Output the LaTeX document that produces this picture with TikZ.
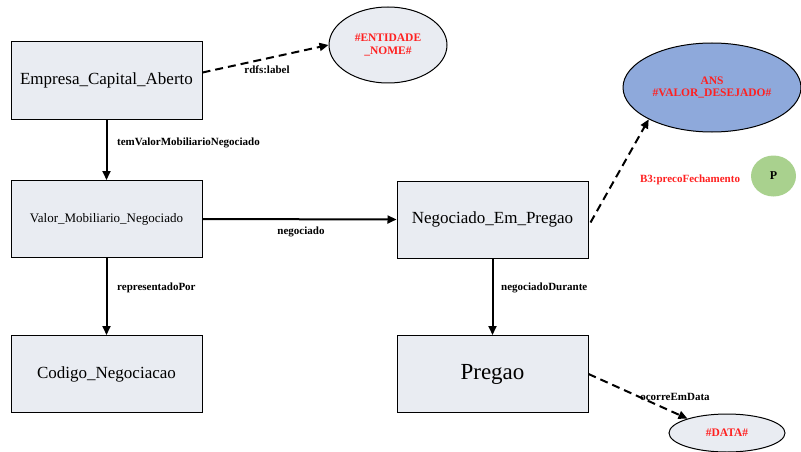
\documentclass[tikz,border=0pt]{standalone}
\usepackage{fontspec}
\setmainfont{Liberation Serif}
\usetikzlibrary{arrows.meta,shapes.geometric}
\definecolor{boxfill}{HTML}{E9ECF2}
\definecolor{ansfill}{HTML}{8EA9DB}
\definecolor{pfill}{HTML}{A9D18E}
\definecolor{litred}{HTML}{FF2020}
\begin{document}
\begin{tikzpicture}[x=1pt,y=-1pt]
\tikzstyle{arrow}=[-{Triangle[length=9pt,width=8pt]}, draw, line width=2pt]
\tikzstyle{dasharrow}=[arrow, dash pattern=on 8pt off 5pt]
\tikzstyle{cls}=[draw, fill=boxfill, minimum width=191pt, minimum height=77pt, inner sep=0pt, line width=1pt]
\tikzstyle{lit}=[draw, ellipse, fill=boxfill, inner sep=0pt, line width=1pt, text=litred, font=\rmfamily\fontsize{11.5}{12.5}\selectfont\bfseries, align=center]
\tikzstyle{prop}=[font=\rmfamily\fontsize{11}{12}\selectfont\bfseries, inner sep=0pt]
\useasboundingbox (0,0) rectangle (801,452);
\node[cls, font=\rmfamily\fontsize{17}{18}\selectfont] (v1) at (106.5,80.5) {Empresa\_Capital\_Aberto};
\node[cls, font=\rmfamily\fontsize{13}{14}\selectfont] (v2) at (106.5,219) {Valor\_Mobiliario\_Negociado};
\node[cls, font=\rmfamily\fontsize{17}{18}\selectfont] (v3) at (106.5,374) {Codigo\_Negociacao};
\node[cls, font=\rmfamily\fontsize{17}{18}\selectfont] (v4) at (492.5,219.5) {Negociado\_Em\_Pregao};
\node[cls, font=\rmfamily\fontsize{23}{24}\selectfont] (v5) at (492.5,374) {Pregao};
\node[lit, minimum width=118pt, minimum height=76pt] (v6) at (388,45) {\#ENTIDADE\\\_NOME\#};
\node[lit, fill=ansfill, minimum width=178pt, minimum height=89pt] (v7) at (712,87.5) {ANS\\\#VALOR\_DESEJADO\#};
\node[lit, minimum width=116pt, minimum height=38pt] (v8) at (727,433) {\#DATA\#};
\node[draw=none, ellipse, fill=pfill, minimum width=45pt, minimum height=41pt, inner sep=0pt, font=\rmfamily\fontsize{12}{13}\selectfont\bfseries] (v9) at (773.5,176) {P};
\node[prop, text=litred] (l0) at (690,180) {B3:precoFechamento};

\node[prop] (l1) at (267,70) {rdfs:label};
\node[prop, anchor=west] (l2) at (117,143) {temValorMobiliarioNegociado};
\node[prop] (l3) at (301,232) {negociado};
\node[prop, anchor=west] (l4) at (117,288) {representadoPor};
\node[prop, anchor=west] (l5) at (501,288) {negociadoDurante};
\node[prop] (l6) at (675,397) {ocorreEmData};

\draw[dasharrow] ([yshift=8pt]v1.east) -- (v6.west);
\draw[arrow] (v1) -- (v2);
\draw[arrow] (v2.east) -- (v4.west);
\draw[arrow] (v2) -- (v3);
\draw[dasharrow] ([xshift=2pt,yshift=-3pt]v4.east) -- (v7.south west);
\draw[arrow] (v4) -- (v5);
\draw[dasharrow] (v5.east) -- (v8.160);
\end{tikzpicture}
\end{document}
